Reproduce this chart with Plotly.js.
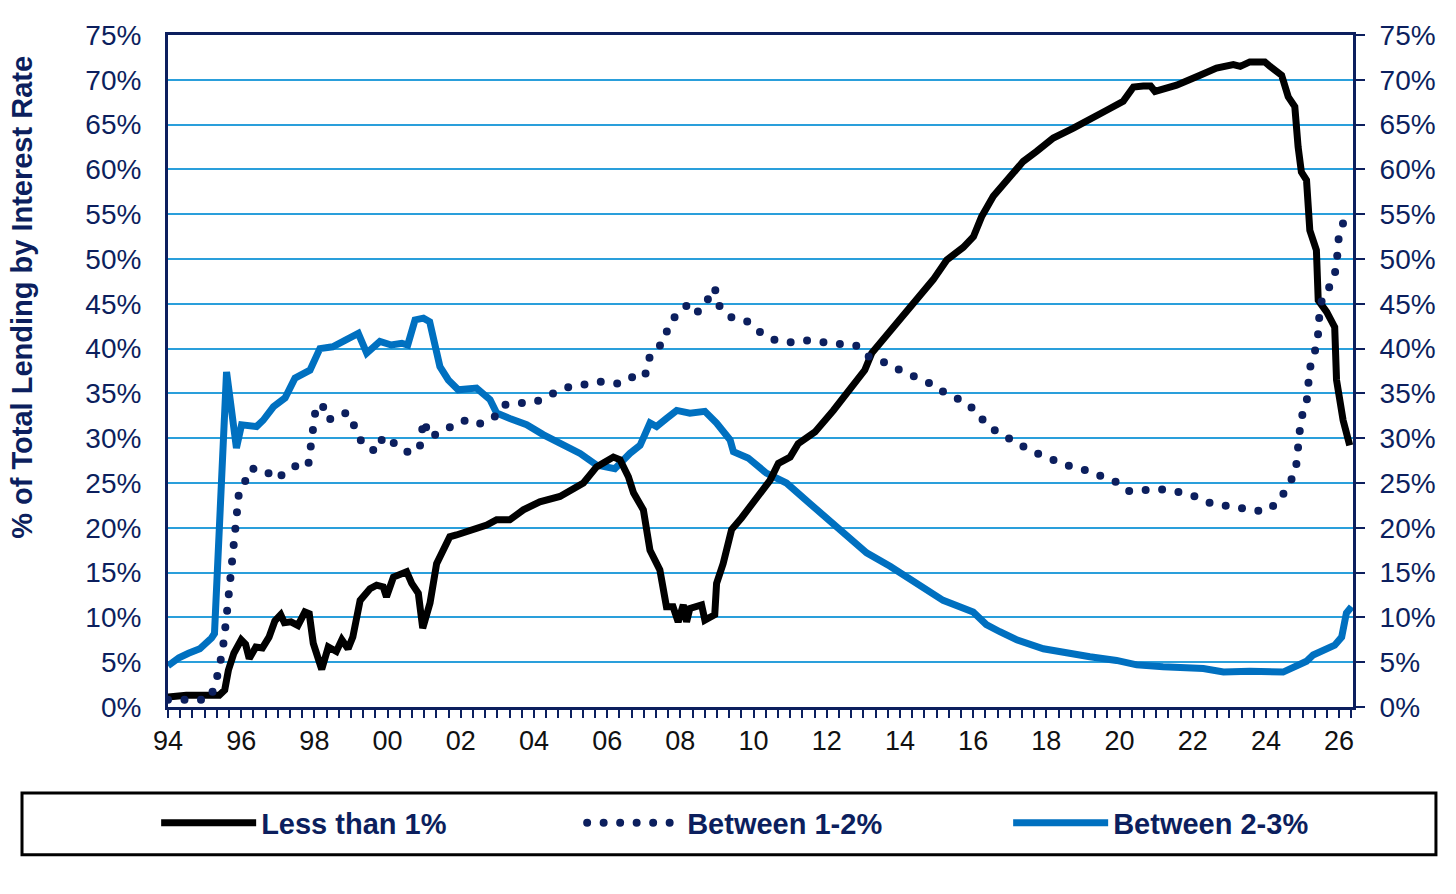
<!DOCTYPE html>
<html>
<head>
<meta charset="utf-8">
<script src="https://cdn.plot.ly/plotly-3.0.1.min.js"></script>
<style>
  html, body { margin: 0; padding: 0; background: #fff; }
  #chart { width: 1456px; height: 894px; }
</style>
</head>
<body>
<div id="chart"></div>
<script>
// decimal years
const lessThan1Years = [
  1994.0, 1994.5, 1995.0, 1995.4, 1995.55, 1995.65, 1995.8, 1996.0, 1996.12, 1996.22,
  1996.4, 1996.58, 1996.76, 1996.92, 1997.08, 1997.18, 1997.36, 1997.55, 1997.74, 1997.86,
  1997.97, 1998.1, 1998.2, 1998.38, 1998.6, 1998.75, 1998.92, 1999.05, 1999.25, 1999.52,
  1999.7, 1999.88, 1999.97, 2000.16, 2000.52, 2000.66, 2000.84, 2000.96, 2001.16, 2001.34,
  2001.52, 2001.7, 2001.88, 2002.16, 2002.43, 2002.71, 2002.98, 2003.34, 2003.71, 2004.16,
  2004.71, 2004.98, 2005.35, 2005.71, 2006.17, 2006.35, 2006.58, 2006.72, 2006.99, 2007.17,
  2007.44, 2007.62, 2007.8, 2007.94, 2008.08, 2008.17, 2008.26, 2008.58, 2008.67, 2008.94,
  2008.99, 2009.17, 2009.4, 2009.67, 2009.9, 2010.27, 2010.45, 2010.68, 2011.0, 2011.22,
  2011.68, 2012.18, 2012.63, 2013.04, 2013.23, 2013.54, 2014.09, 2014.5, 2014.91, 2015.28,
  2015.73, 2016.01, 2016.23, 2016.55, 2017.1, 2017.37, 2017.73, 2018.19, 2018.74, 2019.19,
  2019.65, 2020.1, 2020.38, 2020.65, 2020.85, 2020.97, 2021.56, 2022.2, 2022.65, 2023.11,
  2023.3, 2023.56, 2023.97, 2024.11, 2024.43, 2024.61, 2024.79, 2024.88, 2024.97, 2025.11,
  2025.2, 2025.38, 2025.43, 2025.66, 2025.88, 2025.93, 2026.11, 2026.29,
];
const lessThan1 = [
  1.1, 1.3, 1.3, 1.3, 1.9, 4.1, 6.0, 7.5, 7.0, 5.4,
  6.7, 6.6, 7.8, 9.6, 10.3, 9.4, 9.5, 9.1, 10.6, 10.4,
  7.1, 5.2, 4.2, 6.7, 6.2, 7.5, 6.5, 7.8, 11.9, 13.2,
  13.6, 13.4, 12.3, 14.5, 15.1, 13.8, 12.7, 8.8, 11.6, 16.0,
  17.7, 19.0, 19.2, 19.6, 19.9, 20.3, 20.9, 20.9, 22.0, 22.9,
  23.5, 24.2, 25.0, 26.8, 27.9, 27.6, 25.7, 23.9, 22.0, 17.5,
  15.3, 11.2, 11.2, 9.5, 11.4, 9.5, 11.0, 11.4, 9.7, 10.3,
  13.8, 16.0, 19.8, 21.1, 22.4, 24.6, 25.3, 27.2, 27.9, 29.4,
  30.7, 33.1, 35.5, 37.6, 39.5, 41.0, 43.8, 45.6, 47.7, 49.9,
  51.3, 52.5, 54.7, 57.0, 59.6, 60.9, 62.0, 63.5, 64.6, 65.7,
  66.6, 67.6, 69.2, 69.3, 69.3, 68.7, 69.4, 70.5, 71.3, 71.7,
  71.5, 72.0, 72.0, 71.5, 70.5, 68.1, 67.0, 62.5, 59.7, 58.8,
  53.2, 51.0, 45.4, 44.1, 42.4, 36.5, 32.0, 29.2,
];

const between12Years = [
  1994.0, 1995.1, 1995.28, 1995.4, 1995.49, 1995.6, 1995.69, 1995.78, 1995.86, 1995.94,
  1996.15, 1996.25, 1996.62, 1996.95, 1997.21, 1997.53, 1997.83, 1997.9, 1997.96, 1998.02,
  1998.2, 1998.38, 1998.65, 1998.88, 1999.0, 1999.15, 1999.38, 1999.7, 1999.88, 2000.02,
  2000.38, 2000.7, 2000.89, 2000.93, 2000.98, 2001.16, 2001.43, 2001.79, 2002.07, 2002.43,
  2002.89, 2003.16, 2003.62, 2004.07, 2004.53, 2004.94, 2005.39, 2005.82, 2006.3, 2006.62,
  2007.03, 2007.12, 2007.26, 2007.56, 2007.67, 2007.9, 2008.12, 2008.22, 2008.49, 2008.67,
  2008.88, 2008.94, 2009.04, 2009.25, 2009.43, 2009.84, 2010.22, 2010.61, 2011.04, 2011.47,
  2011.9, 2012.37, 2012.83, 2013.18, 2013.62, 2014.04, 2014.45, 2014.89, 2015.29, 2015.71,
  2016.09, 2016.38, 2016.8, 2017.19, 2017.62, 2018.07, 2018.52, 2018.96, 2019.41, 2019.87,
  2020.26, 2020.72, 2021.1, 2021.6, 2022.07, 2022.52, 2023.0, 2023.47, 2023.95, 2024.34,
  2024.59, 2024.81, 2024.86, 2024.9, 2024.96, 2025.11, 2025.17, 2025.2, 2025.34, 2025.43,
  2025.46, 2025.54, 2025.77, 2025.92, 2025.96, 2026.0, 2026.18,
];
const between12 = [
  0.8, 0.8, 2.2, 4.1, 6.2, 10.1, 14.2, 18.1, 22.0, 24.0,
  25.5, 26.6, 26.5, 25.4, 26.2, 27.0, 26.9, 28.9, 30.9, 32.8,
  33.9, 32.0, 32.7, 32.8, 32.5, 30.5, 29.1, 28.5, 30.2, 30.0,
  28.7, 28.3, 29.2, 31.3, 32.0, 30.1, 30.7, 31.3, 32.0, 31.5,
  32.2, 33.7, 33.8, 34.1, 35.0, 35.7, 36.0, 36.3, 36.1, 36.8,
  36.8, 38.7, 39.8, 40.7, 42.6, 43.8, 44.5, 45.1, 44.1, 45.2,
  46.0, 46.8, 44.9, 43.9, 43.4, 43.0, 41.7, 40.9, 40.7, 40.9,
  40.7, 40.4, 40.3, 39.0, 38.4, 37.5, 36.8, 36.0, 34.9, 34.2,
  33.0, 31.4, 30.4, 29.4, 28.5, 27.8, 27.0, 26.6, 25.9, 25.2,
  24.1, 24.1, 24.3, 24.0, 23.5, 22.7, 22.4, 22.0, 21.8, 22.8,
  24.4, 26.2, 28.2, 30.2, 32.2, 33.9, 35.8, 37.8, 39.7, 41.7,
  43.7, 45.7, 47.1, 48.9, 50.9, 52.9, 54.7,
];

const between23Years = [
  1994.0, 1994.3, 1994.56, 1994.87, 1995.19, 1995.27, 1995.6, 1995.87, 1996.01, 1996.2,
  1996.42, 1996.6, 1996.88, 1997.2, 1997.47, 1997.88, 1998.15, 1998.5, 1998.79, 1999.2,
  1999.43, 1999.79, 2000.1, 2000.39, 2000.55, 2000.75, 2000.98, 2001.15, 2001.43, 2001.66,
  2001.93, 2002.43, 2002.8, 2002.98, 2003.34, 2003.8, 2004.25, 2004.71, 2005.26, 2005.71,
  2006.21, 2006.62, 2006.9, 2007.17, 2007.35, 2007.62, 2007.9, 2008.26, 2008.67, 2008.99,
  2009.36, 2009.45, 2009.85, 2010.35, 2010.9, 2011.54, 2012.27, 2013.09, 2013.73, 2014.45,
  2015.18, 2016.0, 2016.36, 2016.73, 2017.19, 2017.92, 2018.55, 2019.19, 2019.92, 2020.47,
  2021.19, 2022.29, 2022.84, 2023.56, 2024.47, 2024.84, 2025.11, 2025.29, 2025.57, 2025.88,
  2026.07, 2026.2, 2026.34,
];
const between23 = [
  4.6, 5.5, 6.0, 6.5, 7.7, 8.2, 37.4, 28.9, 31.5, 31.4,
  31.3, 32.0, 33.5, 34.5, 36.7, 37.6, 40.0, 40.2, 40.8, 41.7,
  39.5, 40.8, 40.4, 40.6, 40.4, 43.2, 43.4, 43.0, 38.0, 36.5,
  35.4, 35.6, 34.3, 32.8, 32.2, 31.5, 30.4, 29.4, 28.3, 27.0,
  26.6, 28.3, 29.2, 31.7, 31.3, 32.2, 33.1, 32.8, 33.0, 31.7,
  29.8, 28.5, 27.8, 26.1, 25.0, 22.7, 20.1, 17.2, 15.7, 13.8,
  11.9, 10.6, 9.2, 8.4, 7.5, 6.5, 6.0, 5.6, 5.2, 4.7,
  4.5, 4.3, 3.9, 4.0, 3.9, 4.5, 5.1, 5.8, 6.4, 6.9,
  7.8, 10.5, 11.2,
];

const xTickVals = [1994, 1996, 1998, 2000, 2002, 2004, 2006, 2008, 2010, 2012,
  2014, 2016, 2018, 2020, 2022, 2024, 2026];
const xTickText = ['94', '96', '98', '00', '02', '04', '06', '08', '10', '12',
  '14', '16', '18', '20', '22', '24', '26'];

const navy = '#0c1f5e';
const font = 'Liberation Sans, Arial, sans-serif';

const traceBlue = {
  x: between23Years,
  y: between23,
  name: 'Between 2-3%',
  type: 'scatter',
  mode: 'lines',
  legendrank: 3,
  line: { color: '#0070c0', width: 7 },
  hovertemplate: '%{y:.1f}%<extra></extra>',
};

const traceBlack = {
  x: lessThan1Years,
  y: lessThan1,
  name: 'Less than 1%',
  type: 'scatter',
  mode: 'lines',
  legendrank: 1,
  line: { color: '#000000', width: 7 },
  hovertemplate: '%{y:.1f}%<extra></extra>',
};

const traceDots = {
  x: between12Years,
  y: between12,
  name: 'Between 1-2%',
  type: 'scatter',
  mode: 'lines',
  yaxis: 'y2',
  legendrank: 2,
  line: { color: navy, width: 8, dash: '0px,16.5px' },
  hovertemplate: '%{y:.1f}%<extra></extra>',
};

const yAxisBase = {
  range: [0, 75],
  dtick: 5,
  tick0: 0,
  ticksuffix: '%',
  tickfont: { family: font, size: 28, color: navy },
  showline: true,
  linecolor: navy,
  linewidth: 3,
  zeroline: false,
  fixedrange: true,
};

const layout = {
  width: 1456,
  height: 894,
  margin: { l: 168, r: 103, t: 35, b: 187 },
  paper_bgcolor: '#ffffff',
  plot_bgcolor: '#ffffff',
  showlegend: true,
  font: { family: font, color: navy },
  xaxis: {
    range: [1994, 2026.38],
    tickmode: 'array',
    tickvals: xTickVals,
    ticktext: xTickText,
    tickfont: { family: font, size: 27, color: '#111111' },
    ticks: 'outside',
    ticklen: 8,
    tickwidth: 1.5,
    tickcolor: navy,
    minor: { tickmode: 'linear', tick0: 1994, dtick: 1 / 3, ticks: 'outside', ticklen: 8, tickwidth: 1.5, tickcolor: navy, showgrid: false },
    showgrid: false,
    showline: true,
    mirror: true,
    linecolor: navy,
    linewidth: 3,
    zeroline: false,
    fixedrange: true,
  },
  yaxis: {
    ...yAxisBase,
    ticks: '',
    ticklabelstandoff: 18,
    showgrid: true,
    gridcolor: '#2a9fdb',
    gridwidth: 1.5,
  },
  yaxis2: {
    ...yAxisBase,
    overlaying: 'y',
    matches: 'y',
    side: 'right',
    ticks: 'outside',
    ticklen: 9,
    tickwidth: 1.5,
    tickcolor: navy,
    ticklabelstandoff: 9,
    showgrid: false,
  },
  // axis title sits above the middle of the axis in the source, so it is an annotation
  annotations: [{
    text: '% of Total Lending by Interest Rate',
    xref: 'paper',
    yref: 'paper',
    x: -0.1232,
    y: 0.609,
    xanchor: 'center',
    yanchor: 'middle',
    textangle: -90,
    showarrow: false,
    font: { family: font, size: 29, color: navy, weight: 'bold' },
  }],
  legend: {
    orientation: 'h',
    x: -0.01,
    xanchor: 'left',
    y: -0.1726,
    yanchor: 'middle',
    itemwidth: 95,
    entrywidth: 316,
    entrywidthmode: 'pixels',
    font: { family: font, size: 29, color: navy, weight: 'bold' },
    bgcolor: 'rgba(0,0,0,0)',
    borderwidth: 0,
  },
  shapes: [{
    type: 'rect',
    xref: 'paper',
    yref: 'paper',
    x0: -0.1232,
    x1: 1.07,
    y0: -0.128,
    y1: -0.22,
    line: { color: '#000000', width: 3 },
    fillcolor: 'rgba(0,0,0,0)',
    layer: 'below',
  }],
  hovermode: 'x',
};

const config = {
  displayModeBar: false,
};

Plotly.newPlot('chart', [traceBlue, traceBlack, traceDots], layout, config).then(() => {
  // round caps turn the zero-length dashes into dots, like the source chart
  document.querySelectorAll('#chart path.js-line').forEach((p) => {
    if ((p.style.strokeDasharray || '').startsWith('0')) {
      p.style.strokeLinecap = 'round';
    }
  });
});
</script>
</body>
</html>
